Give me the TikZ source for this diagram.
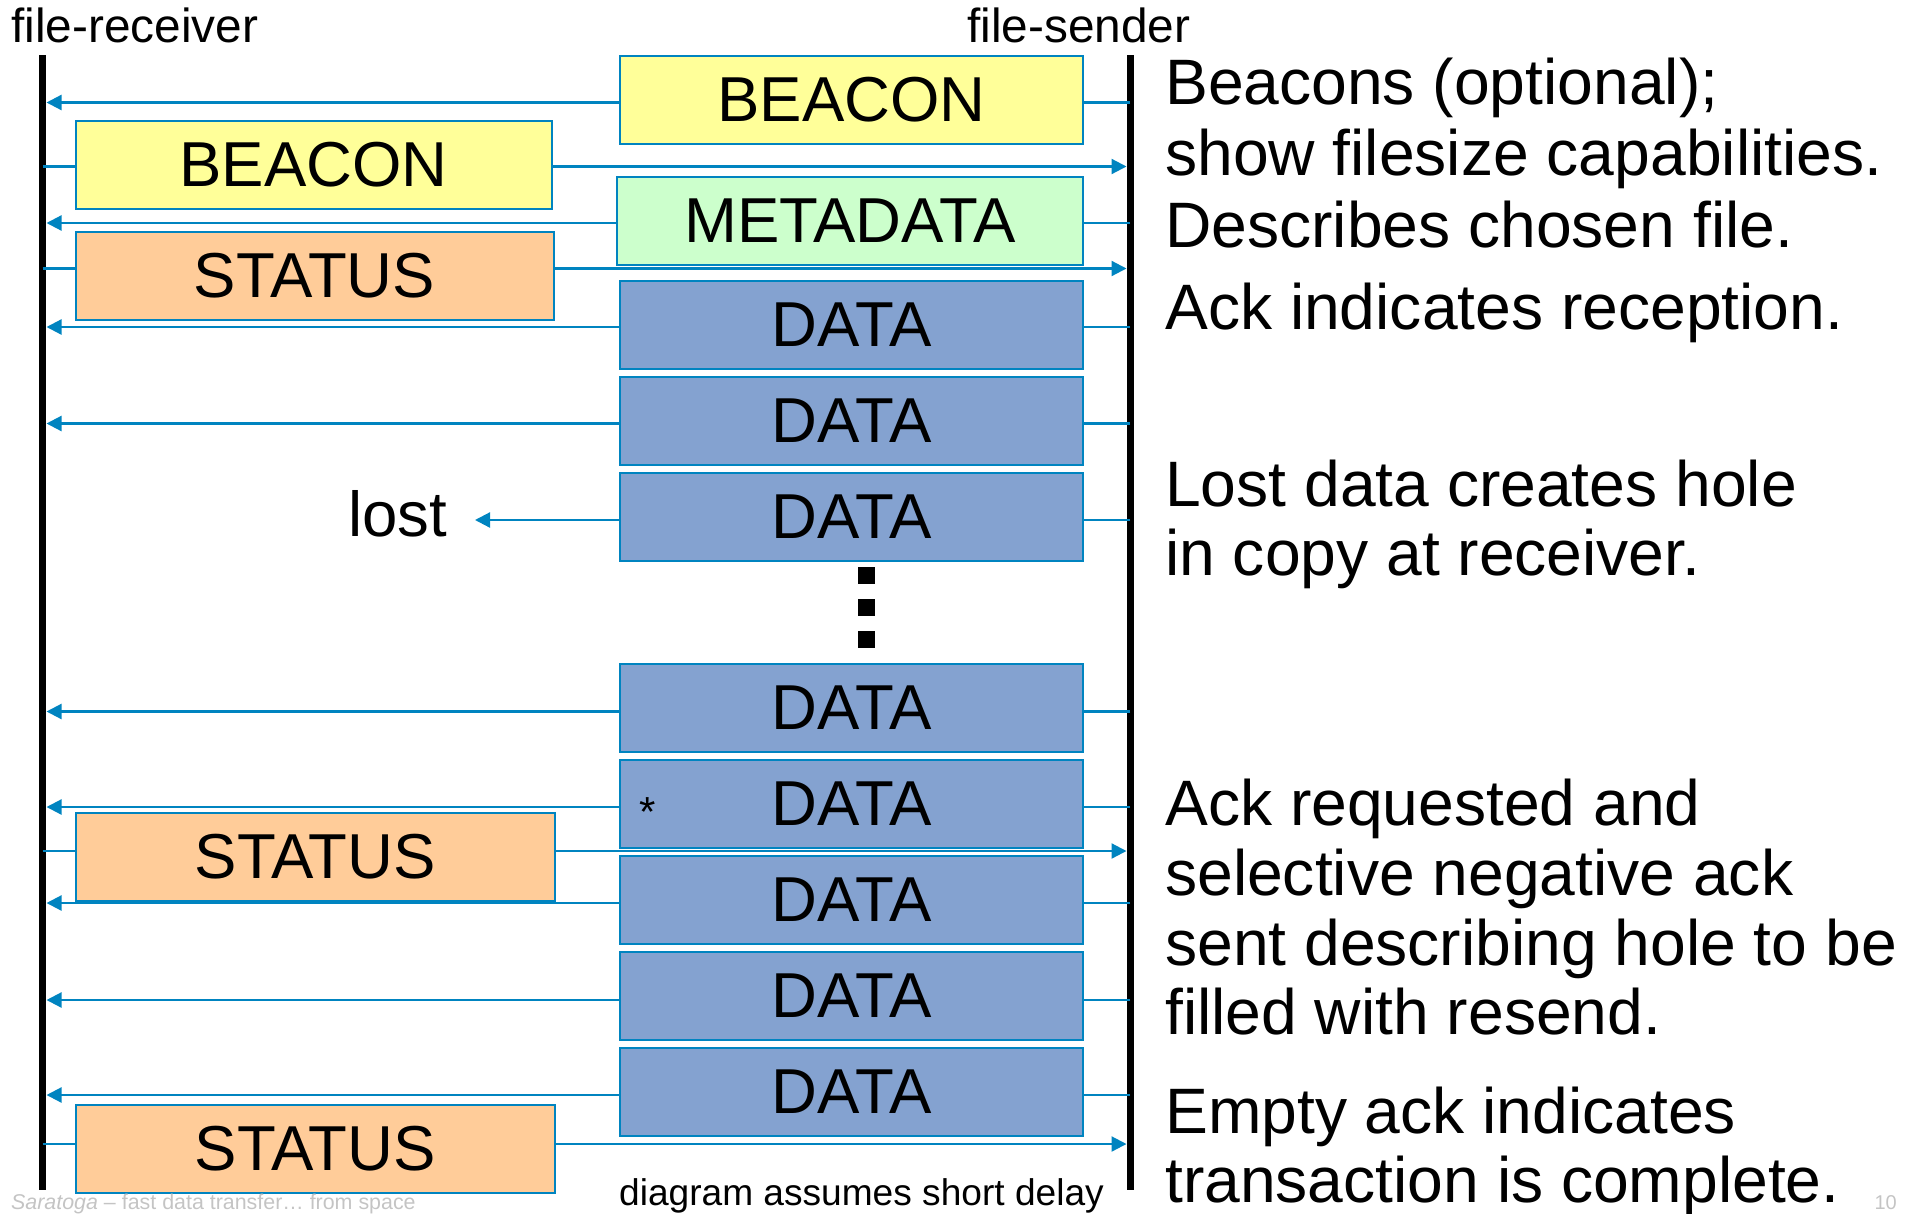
\documentclass[tikz,border=0pt]{standalone}
\usepackage{fontspec}
\setmainfont{Liberation Sans}
\usetikzlibrary{arrows.meta}
\definecolor{arrowblue}{RGB}{0,132,192}
\definecolor{beaconfill}{RGB}{255,255,153}
\definecolor{metafill}{RGB}{204,255,204}
\definecolor{statusfill}{RGB}{255,204,153}
\definecolor{datafill}{RGB}{132,162,208}
\definecolor{footgray}{RGB}{196,196,196}
\newcommand\bigfnt{\fontsize{63.5}{70}\selectfont}
\newcommand\sidefnt{\fontsize{64.2}{70}\selectfont}
\begin{document}
\begin{tikzpicture}[x=1pt,y=-1pt,
  lifeline/.style={line width=7pt},
  msg/.style={draw=arrowblue, line width=2.2pt, -{Triangle[length=15pt,width=15pt]}},
  pkt/.style={draw=arrowblue, line width=2pt, inner sep=0pt, anchor=north west, minimum height=88pt, font=\bigfnt},
  rbox/.style={pkt, minimum width=463pt},
  lbox/.style={pkt, minimum width=478pt},
  beacon/.style={fill=beaconfill},
  meta/.style={fill=metafill},
  status/.style={fill=statusfill},
  datab/.style={fill=datafill},
  side/.style={anchor=base west, inner sep=0pt, font=\sidefnt},
  dotsq/.style={fill=black, minimum size=17pt, inner sep=0pt},
  actor/.style={anchor=base west, inner sep=0pt, font=\fontsize{47.8}{52}\selectfont}]
\useasboundingbox (0,0) rectangle (1914,1213);

% actors
\node[actor] (recv) at (11,42) {file-receiver};
\node[actor] (send) at (967,42) {file-sender};
\coordinate (Ltop) at (42.7,55);
\coordinate (Lbot) at (42.7,1190);
\coordinate (Rtop) at (1130,55);
\coordinate (Rbot) at (1130,1190);
\draw[lifeline] (Ltop) -- (Lbot);
\draw[lifeline] (Rtop) -- (Rbot);

% message end points on the lifelines
\foreach \n/\y in {1/102.5,2/166.5,3/223,4/268.5,5/327,6/423.5,7/520,8/711.5,9/807,10/851,11/903,12/1000,13/1095,14/1144}{
  \coordinate (L\n) at (42.7,\y);
  \coordinate (Lt\n) at (46.5,\y);
  \coordinate (R\n) at (1130,\y);
  \coordinate (Rt\n) at (1126.5,\y);
}

% messages
\draw[msg] (R1) -- (Lt1);
\draw[msg] (L2) -- (Rt2);
\draw[msg] (R3) -- (Lt3);
\draw[msg] (L4) -- (Rt4);
\draw[msg] (R5) -- (Lt5);
\draw[msg] (R6) -- (Lt6);
\coordinate (lostend) at (475,520);
\draw[msg] (R7) -- (lostend);
\draw[msg] (R8) -- (Lt8);
\draw[msg] (R9) -- (Lt9);
\draw[msg] (L10) -- (Rt10);
\draw[msg] (R11) -- (Lt11);
\draw[msg] (R12) -- (Lt12);
\draw[msg] (R13) -- (Lt13);
\draw[msg] (L14) -- (Rt14);

% packets
\node[rbox,beacon] (b1) at (619,55) {BEACON};
\node[lbox,beacon,minimum width=476pt] (b2) at (74.5,120) {BEACON};
\node[rbox,meta,minimum width=466pt] (m1) at (616,176) {METADATA};
\node[lbox,status] (s1) at (74.5,231) {STATUS};
\node[rbox,datab] (d1) at (619,280) {DATA};
\node[rbox,datab] (d2) at (619,376) {DATA};
\node[rbox,datab] (d3) at (619,472) {DATA};
\node[rbox,datab] (d4) at (619,663) {DATA};
\node[rbox,datab] (d5) at (619,759) {DATA};
\node[lbox,status,minimum width=479.5pt] (s2) at (74.5,812) {STATUS};
\node[rbox,datab] (d6) at (619,855) {DATA};
\node[rbox,datab] (d7) at (619,951) {DATA};
\node[rbox,datab] (d8) at (619,1047) {DATA};
\node[lbox,status,minimum width=479.5pt] (s3) at (74.5,1104) {STATUS};

\node[anchor=base, inner sep=0pt, font=\fontsize{42}{46}\selectfont] (ast) at (648,826) {*};
\node[anchor=base west, inner sep=0pt, font=\bigfnt] (lost) at (348,536) {lost};

% continuation dots
\node[dotsq] (dot1) at (866,575) {};
\node[dotsq] (dot2) at (866,607) {};
\node[dotsq] (dot3) at (866,639) {};

% explanations
\node[side] (t1) at (1165,104) {Beacons (optional);};
\node[side] (t2) at (1165,175) {show filesize capabilities.};
\node[side] (t3) at (1165,247) {Describes chosen file.};
\node[side] (t4) at (1165,329) {Ack indicates reception.};
\node[side] (t5) at (1165,506) {Lost data creates hole};
\node[side] (t6) at (1165,575) {in copy at receiver.};
\node[side] (t7) at (1165,825) {Ack requested and};
\node[side] (t8) at (1165,895) {selective negative ack};
\node[side] (t9) at (1165,965) {sent describing hole to be};
\node[side] (t10) at (1165,1034) {filled with resend.};
\node[side] (t11) at (1165,1133) {Empty ack indicates};
\node[side] (t12) at (1165,1202) {transaction is complete.};

\node[anchor=base west, inner sep=0pt, font=\fontsize{37.1}{40}\selectfont] (note) at (619,1205) {diagram assumes short delay};
\node[anchor=base west, inner sep=0pt, text=footgray, font=\fontsize{21.4}{24}\selectfont] (foot) at (11,1209) {\textit{Saratoga} – fast data transfer… from space};
\node[anchor=base east, inner sep=0pt, text=footgray, font=\fontsize{20}{22}\selectfont] (page) at (1897,1209) {10};
\end{tikzpicture}
\end{document}
